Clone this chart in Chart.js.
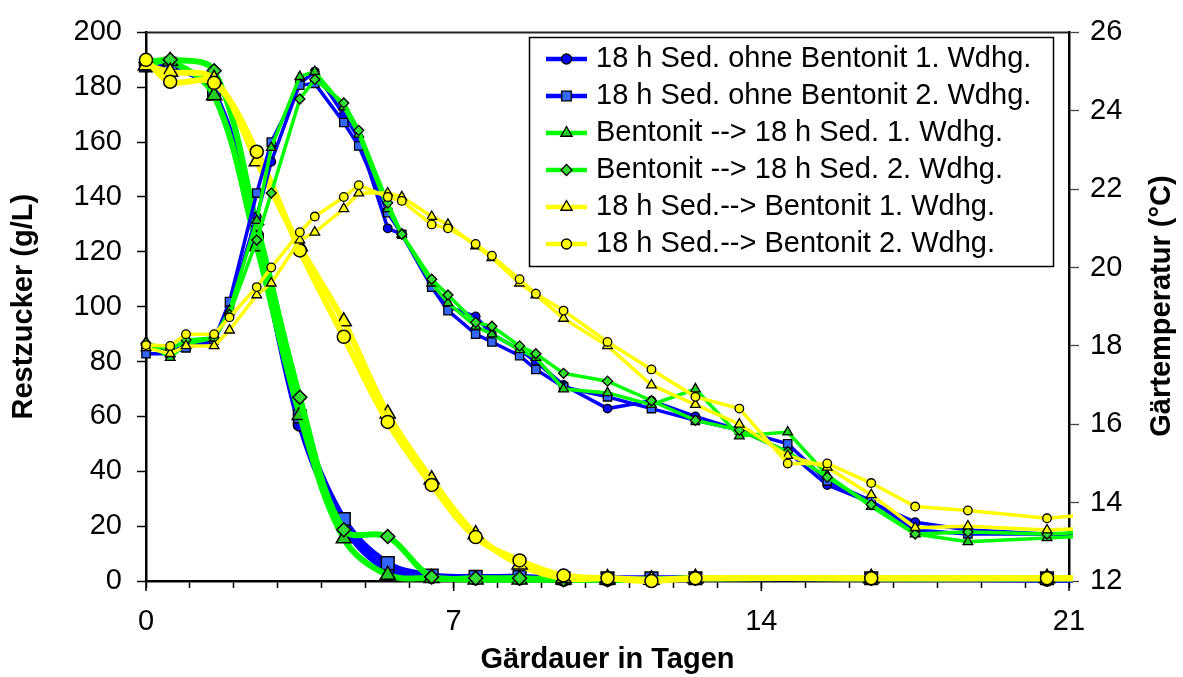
<!DOCTYPE html>
<html><head><meta charset="utf-8">
<script src="https://cdn.jsdelivr.net/npm/chart.js@4.4.1/dist/chart.umd.min.js"></script>
<style>html,body{margin:0;padding:0;background:#fff;}canvas{display:block;}</style>
</head><body>
<canvas id="c" width="1183" height="677"></canvas>
<script>
// ---- data ----
const seriesLabels = [
  '18 h Sed. ohne Bentonit 1. Wdhg.',
  '18 h Sed. ohne Bentonit 2. Wdhg.',
  'Bentonit --> 18 h Sed. 1. Wdhg.',
  'Bentonit --> 18 h Sed. 2. Wdhg.',
  '18 h Sed.--> Bentonit 1. Wdhg.',
  '18 h Sed.--> Bentonit 2. Wdhg.'
];
const xTickLabels = [0, 7, 14, 21];

// Restzucker (g/L)
const sugarDays  = [0, 0.55, 1.55, 2.52, 3.5, 4.5, 5.5, 6.5, 7.5, 8.5, 9.5, 10.5, 11.5, 12.5, 16.5, 20.5, 21.5];
const sugarOhne1 = [188, 188, 178, 126, 57, 20, 4, 1.5, 1, 1, 0.5, 0.5, 0.5, 1, 1, 0.5, 0.5];
const sugarOhne2 = [188, 188.5, 177.7, 124, 60, 22.6, 6.5, 2, 1.5, 1.5, 1, 1, 1, 1, 1, 1, 1];
const sugarBent1 = [188, 189.5, 177, 122, 60.5, 15.5, 2.2, 1, 0.5, 0.5, 0.5, 0.5, 0.5, 1, 1, 1, 1];
const sugarBent2 = [189, 190, 186, 130, 67, 18.7, 16.2, 1.5, 1, 1, 0.5, 0.5, 0.5, 1, 1, 1, 1];
const sugarSed1  = [188, 185.6, 183, 153, 122, 94.6, 61, 37, 17, 6, 1, 1, 0.5, 1, 1, 1, 1];
const sugarSed2  = [190, 182, 181.6, 156.5, 120.5, 89, 58, 35, 16, 7.5, 2, 1, 0, 1, 1, 1, 1];

// Gärtemperatur (°C)
const tempDays  = [0, 0.55, 0.91, 1.55, 1.9, 2.52, 2.85, 3.5, 3.84, 4.5, 4.84, 5.5, 5.82, 6.5, 6.87, 7.5, 7.87, 8.5, 8.87, 9.5, 10.5, 11.5, 12.5, 13.5, 14.6, 15.5, 16.5, 17.5, 18.7, 20.5, 21.5];
const tempOhne1 = [17.95, 17.85, 18.0, 18.1, 19.0, 21.3, 22.7, 24.7, 25.0, 23.9, 23.3, 21.0, 20.85, 19.6, 19.0, 18.75, 18.3, 17.9, 17.6, 17.0, 16.4, 16.6, 16.2, 15.85, 15.3, 14.45, 14.0, 13.5, 13.3, 13.2, 13.2];
const tempOhne2 = [17.8, 17.8, 17.95, 18.15, 19.13, 21.9, 23.2, 24.65, 24.7, 23.7, 23.1, 21.4, 20.85, 19.5, 18.9, 18.3, 18.1, 17.75, 17.4, 16.95, 16.7, 16.4, 16.1, 15.85, 15.5, 14.55, 14.05, 13.3, 13.2, 13.2, 13.2];
const tempBent1 = [18.1, 17.7, 18.05, 18.2, 18.9, 21.2, 23.06, 24.87, 25.0, 24.1, 23.4, 21.5, 20.85, 19.6, 19.1, 18.5, 18.3, 17.9, 17.7, 16.9, 16.8, 16.5, 16.9, 15.7, 15.8, 14.7, 13.9, 13.2, 13.0, 13.1, 13.15];
const tempBent2 = [18.07, 17.9, 18.15, 18.2, 18.8, 20.7, 21.9, 24.3, 24.8, 24.2, 23.5, 21.65, 20.85, 19.7, 19.3, 18.6, 18.5, 18.0, 17.8, 17.3, 17.1, 16.6, 16.1, 15.85, 15.3, 14.65, 13.95, 13.2, 13.25, 13.2, 13.25];
const tempSed1  = [17.95, 17.8, 18.0, 18.0, 18.4, 19.3, 19.6, 20.7, 20.9, 21.5, 21.9, 21.9, 21.8, 21.3, 21.1, 20.55, 20.25, 19.6, 19.3, 18.7, 18.0, 17.0, 16.5, 16.0, 15.2, 14.9, 14.2, 13.36, 13.4, 13.3, 13.35];
const tempSed2  = [18.02, 18.0, 18.3, 18.3, 18.73, 19.5, 20.0, 20.9, 21.3, 21.8, 22.1, 21.8, 21.7, 21.1, 21.0, 20.6, 20.3, 19.7, 19.33, 18.9, 18.1, 17.4, 16.7, 16.4, 15.0, 15.0, 14.5, 13.9, 13.8, 13.6, 13.7];

// ---- styles ----
const FONT = "'Liberation Sans', Arial, sans-serif";
const styles = [
  {line: '#0000FF', fill: '#0000FF', shape: 'circle',   big: 6.5, small: 4.3, leg: 5},
  {line: '#0000FF', fill: '#3366FF', shape: 'rect',     big: 9,   small: 5.9, leg: 6.8},
  {line: '#00FF00', fill: '#22CC22', shape: 'triangle', big: 8.7, small: 5.6, leg: 6.5},
  {line: '#00FF00', fill: '#33DD33', shape: 'rectRot',  big: 7,   small: 5,   leg: 5.5},
  {line: '#FFFF00', fill: '#FFFF00', shape: 'triangle', big: 8.7, small: 5.6, leg: 6.5},
  {line: '#FFFF00', fill: '#FFFF00', shape: 'circle',   big: 6.5, small: 4.3, leg: 5}
];
const sugarSeries = [sugarOhne1, sugarOhne2, sugarBent1, sugarBent2, sugarSed1, sugarSed2];
const tempSeries = [tempOhne1, tempOhne2, tempBent1, tempBent2, tempSed1, tempSed2];

function pts(xs, ys) { return xs.map((x, i) => ({x: x, y: ys[i]})); }
const clipBox = {left: 14, top: 14, right: 4, bottom: 14};

const datasets = [];
sugarSeries.forEach((vals, i) => {
  const s = styles[i];
  datasets.push({
    label: seriesLabels[i], data: pts(sugarDays, vals), yAxisID: 'y',
    borderColor: s.line, borderWidth: 6, tension: 0.35,
    pointStyle: s.shape, pointRadius: s.big, pointBackgroundColor: s.fill,
    pointBorderColor: '#000', pointBorderWidth: 1.5, clip: clipBox,
    order: 40 - i
  });
});
tempSeries.forEach((vals, i) => {
  const s = styles[i];
  datasets.push({
    label: seriesLabels[i] + ' (T)', data: pts(tempDays, vals), yAxisID: 'y2',
    borderColor: s.line, borderWidth: 3.5, tension: 0,
    pointStyle: s.shape, pointRadius: s.small, pointBackgroundColor: s.fill,
    pointBorderColor: '#000', pointBorderWidth: 1.3, clip: clipBox,
    order: 20 - i
  });
});

const decorPlugin = {
  id: 'decor',
  beforeDatasetsDraw(chart) {
    const {ctx, chartArea: a} = chart;
    ctx.save();
    ctx.strokeStyle = '#222'; ctx.lineWidth = 2;
    ctx.beginPath(); ctx.moveTo(a.left, a.top); ctx.lineTo(a.right, a.top); ctx.stroke();
    // longer major ticks on x axis
    const xs = chart.scales.x;
    ctx.strokeStyle = '#000'; ctx.lineWidth = 1.5;
    xTickLabels.forEach(v => {
      const px = xs.getPixelForValue(v);
      ctx.beginPath(); ctx.moveTo(px, a.bottom); ctx.lineTo(px, a.bottom + 10); ctx.stroke();
    });
    ctx.restore();
  },
  afterDraw(chart) {
    const ctx = chart.ctx;
    // legend
    ctx.save();
    const bx = 529.5, by = 37.5, bw = 524, bh = 229;
    ctx.fillStyle = '#fff'; ctx.fillRect(bx, by, bw, bh);
    ctx.strokeStyle = '#000'; ctx.lineWidth = 1.5; ctx.strokeRect(bx, by, bw, bh);
    ctx.font = '29px ' + FONT; ctx.textAlign = 'left'; ctx.textBaseline = 'middle';
    seriesLabels.forEach((lab, i) => {
      const s = styles[i];
      const y = 59 + 37 * i;
      ctx.strokeStyle = s.line; ctx.lineWidth = 4.5;
      ctx.beginPath(); ctx.moveTo(546, y); ctx.lineTo(587, y); ctx.stroke();
      ctx.fillStyle = s.fill; ctx.strokeStyle = '#000'; ctx.lineWidth = 1.3;
      Chart.helpers.drawPoint(ctx, {pointStyle: s.shape, radius: s.leg, rotation: 0, borderWidth: 1.3}, 566.5, y);
      ctx.fillStyle = '#000';
      ctx.fillText(lab, 596, y);
    });
    // right axis title
    ctx.translate(1162, 306); ctx.rotate(-Math.PI / 2);
    ctx.font = 'bold 29px ' + FONT; ctx.textAlign = 'center'; ctx.textBaseline = 'middle';
    ctx.fillStyle = '#000';
    ctx.fillText('Gärtemperatur (°C)', 0, 0);
    ctx.restore();
  }
};

const tickFont = {family: FONT, size: 29, lineHeight: 1.2};
new Chart(document.getElementById('c'), {
  type: 'line',
  data: {datasets: datasets},
  options: {
    responsive: false, animation: false, devicePixelRatio: 1,
    layout: {padding: {top: 25, left: 0, right: 0, bottom: 0}},
    plugins: {legend: {display: false}, tooltip: {enabled: false}},
    scales: {
      x: {
        type: 'linear', position: 'bottom', min: 0, max: 21,
        afterFit: s => { s.height = 96; },
        afterBuildTicks: s => { const t = []; for (let v = 0; v <= 21; v++) t.push({value: v}); s.ticks = t; },
        ticks: {autoSkip: false, maxRotation: 0, padding: 17, color: '#000', font: tickFont,
          callback: v => (xTickLabels.includes(v) ? String(v) : '')},
        grid: {drawOnChartArea: false, drawTicks: true, tickLength: 7, tickColor: '#000', tickWidth: 1.5},
        border: {display: true, color: '#000', width: 2.5},
        title: {display: true, text: 'Gärdauer in Tagen', color: '#000',
          font: {family: FONT, size: 29, weight: 'bold', lineHeight: 1.15}, padding: {top: 0, bottom: 0}}
      },
      y: {
        type: 'linear', position: 'left', min: 0, max: 200,
        afterFit: s => { s.width = 146; },
        ticks: {stepSize: 20, padding: 15, color: '#000', font: tickFont},
        grid: {drawOnChartArea: false, drawTicks: true, tickLength: 9, tickColor: '#000', tickWidth: 1.5},
        border: {display: true, color: '#000', width: 2.5},
        title: {display: true, text: 'Restzucker (g/L)', color: '#000',
          font: {family: FONT, size: 29, weight: 'bold', lineHeight: 1.15}, padding: {top: 7, bottom: 0}}
      },
      y2: {
        type: 'linear', position: 'right', min: 12, max: 26,
        afterFit: s => { s.width = 114; },
        ticks: {stepSize: 2, padding: 11, color: '#000', font: tickFont},
        grid: {drawOnChartArea: false, drawTicks: true, tickLength: 10, tickColor: '#444', tickWidth: 1.3},
        border: {display: true, color: '#000', width: 2.5}
      }
    }
  },
  plugins: [decorPlugin]
});
</script>
</body></html>
